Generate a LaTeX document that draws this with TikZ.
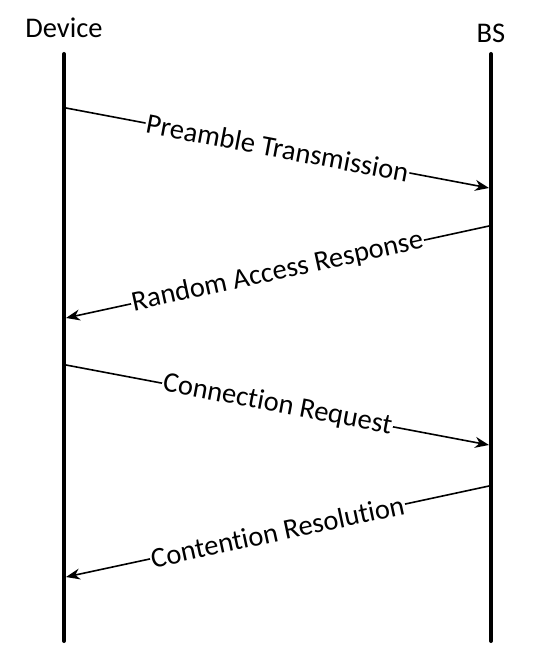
\documentclass[tikz,border=0pt]{standalone}
\usepackage{fontspec}
\setmainfont{Carlito}[Ligatures=NoCommon]
\usetikzlibrary{arrows.meta}
\tikzset{
  lifeline/.style={line width=4pt, line cap=round},
  msg/.style={-{Stealth[length=14pt,width=11pt]}, line width=1.6pt},
  msglabel/.style={fill=white, sloped, inner sep=1pt, font=\fontsize{28.5}{32}\selectfont}
}
\begin{document}
\begin{tikzpicture}[x=1pt,y=-1pt]
                \useasboundingbox (0,0) rectangle (539,647);
                \node (dev) at (64,28) {\fontsize{28.5}{32}\selectfont Device};
                \node (bs) at (491,33) {\fontsize{28.5}{32}\selectfont BS};
                \coordinate (devtop) at (64,54);
                \coordinate (devbot) at (64,641);
                \coordinate (bstop) at (491,54);
                \coordinate (bsbot) at (491,641);
                \draw[lifeline] (devtop)--(devbot);
                \draw[lifeline] (bstop)--(bsbot);
                \foreach \Name/\Y in {d1/108, d2/318, d3/365, d4/577}{\coordinate (\Name) at (66,\Y);}
                \foreach \Name/\Y in {b1/188, b2/226, b3/445, b4/486}{\coordinate (\Name) at (489,\Y);}
                \draw[msg] (d1)--(b1) node [msglabel, midway] {Preamble Transmission};
                \draw[msg] (b2)--(d2) node [msglabel, midway] {Random Access Response};
                \draw[msg] (d3)--(b3) node [msglabel, midway] {Connection Request};
                \draw[msg] (b4)--(d4) node [msglabel, midway] {Contention Resolution};
            \end{tikzpicture}
\end{document}
